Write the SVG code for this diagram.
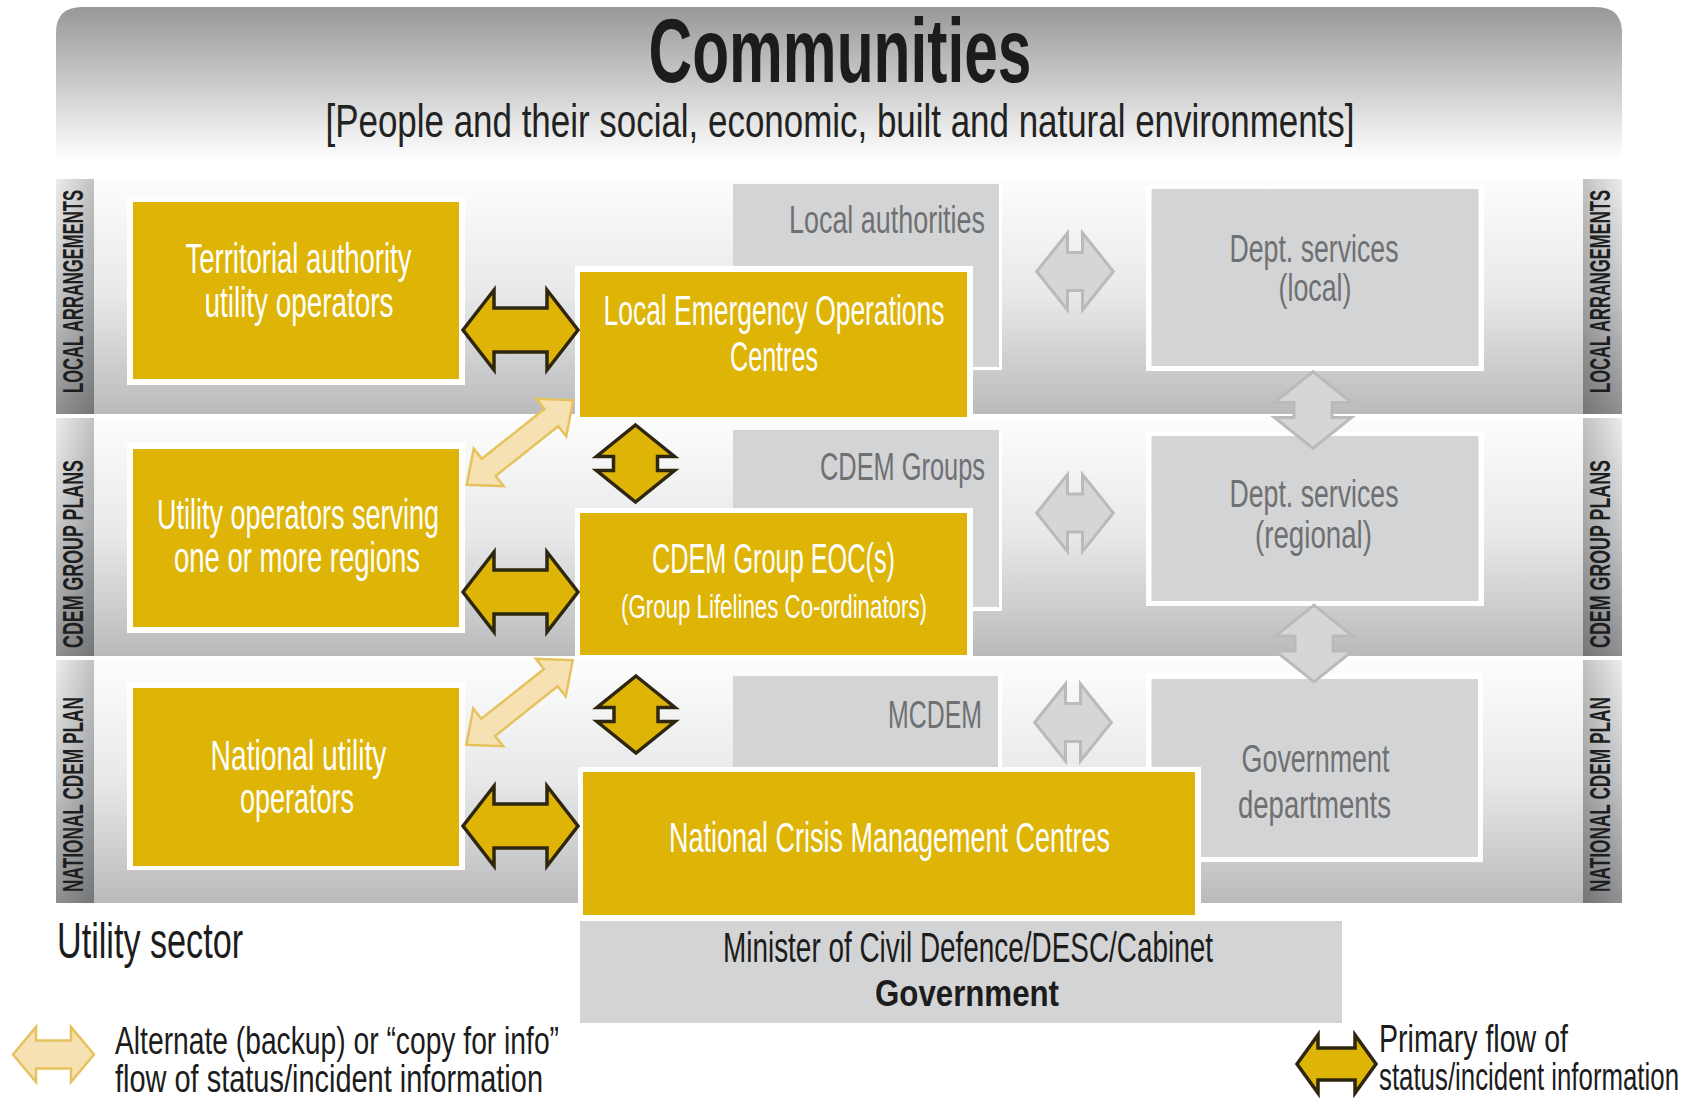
<svg xmlns="http://www.w3.org/2000/svg" width="1699" height="1100" viewBox="0 0 1699 1100">
<defs>
<linearGradient id="gBanner" x1="0" y1="0" x2="0" y2="1">
<stop offset="0" stop-color="#97989a"/>
<stop offset="0.5" stop-color="#c9cacb"/>
<stop offset="0.85" stop-color="#eeeeee"/>
<stop offset="1" stop-color="#fcfcfc"/>
</linearGradient>
<linearGradient id="gBand" x1="0" y1="0" x2="0" y2="1">
<stop offset="0" stop-color="#fdfdfd"/>
<stop offset="0.5" stop-color="#e7e8e9"/>
<stop offset="1" stop-color="#b9babc"/>
</linearGradient>
<linearGradient id="gStrip" x1="0" y1="0" x2="0" y2="1">
<stop offset="0" stop-color="#ececec"/>
<stop offset="0.5" stop-color="#c4c5c7"/>
<stop offset="1" stop-color="#8e8f91"/>
</linearGradient>
<linearGradient id="gStripL" x1="0" y1="0" x2="1" y2="0">
<stop offset="0" stop-color="#000" stop-opacity="0"/>
<stop offset="1" stop-color="#000" stop-opacity="0.18"/>
</linearGradient>
<linearGradient id="gStripR" x1="1" y1="0" x2="0" y2="0">
<stop offset="0" stop-color="#000" stop-opacity="0"/>
<stop offset="1" stop-color="#000" stop-opacity="0.18"/>
</linearGradient>
<path id="pPrim" d="M-57.5,0 L-26.5,-40 L-26.5,-22 L26.5,-22 L26.5,-40 L57.5,0 L26.5,40 L26.5,22 L-26.5,22 L-26.5,40 Z"/>
<path id="pPrimV" d="M0,-38.5 L39,-7 L22,-7 L22,7 L39,7 L0,38.5 L-39,7 L-22,7 L-22,-7 L-39,-7 Z"/>
<path id="pGray" d="M-38.3,0 L-7.5,-38.5 L-7.5,-19 L7.5,-19 L7.5,-38.5 L38.3,0 L7.5,38.5 L7.5,19 L-7.5,19 L-7.5,38.5 Z"/>
<path id="pLight" d="M-68,0 L-40,-24 L-40,-11 L40,-11 L40,-24 L68,0 L40,24 L40,11 L-40,11 L-40,24 Z"/>
<path id="pLegP" d="M-39.5,0 L-18.5,-29 L-18.5,-16 L18.5,-16 L18.5,-29 L39.5,0 L18.5,29 L18.5,16 L-18.5,16 L-18.5,29 Z"/>
<path id="pLegA" d="M-40.5,0 L-17.5,-27.5 L-17.5,-14 L17.5,-14 L17.5,-27.5 L40.5,0 L17.5,27.5 L17.5,14 L-17.5,14 L-17.5,27.5 Z"/>
</defs>
<style>
.band{fill:url(#gBand)}
.strip{fill:url(#gStrip)}
.wb{fill:#ffffff}
.gold{fill:#DEB406}
.gray{fill:#D3D4D6}
.t{font-family:"Liberation Sans",Arial,sans-serif}
.tw{fill:#ffffff;font-size:42px;text-anchor:middle}
.tws{fill:#ffffff;font-size:33px;text-anchor:middle}
.tg{fill:#6f7072;font-size:39px}
.tk{fill:#1c1c1c}
.lg{font-size:38px}
.lbl{font-family:"Liberation Sans",Arial,sans-serif;font-weight:bold;font-size:30px;fill:#1e1e1e;text-anchor:middle}
.pa{fill:#DEB406;stroke:#2f2610;stroke-width:3.5;stroke-linejoin:miter}
.la{fill:#F6E1B2;stroke:#E6C25E;stroke-width:2.5;stroke-linejoin:miter}
.ga{fill:#D5D6D8;stroke:#B9BABC;stroke-width:3;stroke-linejoin:miter}
</style>
<rect width="1699" height="1100" fill="#ffffff"/>
<g id="background">
<path d="M56,157 L56,33 Q56,7 82,7 L1596,7 Q1622,7 1622,33 L1622,157 Z" fill="url(#gBanner)"/>
<rect class="band" x="56" y="179" width="1566" height="235"/>
<rect class="band" x="56" y="418" width="1566" height="238"/>
<rect class="band" x="56" y="660" width="1566" height="243"/>
<rect class="strip" x="56" y="179" width="38" height="235"/>
<rect class="strip" x="56" y="418" width="38" height="238"/>
<rect class="strip" x="56" y="660" width="38" height="243"/>
<rect x="56" y="179" width="38" height="724" fill="url(#gStripL)"/>
<rect class="strip" x="1583" y="179" width="39" height="235"/>
<rect class="strip" x="1583" y="418" width="39" height="238"/>
<rect class="strip" x="1583" y="660" width="39" height="243"/>
<rect x="1583" y="179" width="39" height="724" fill="url(#gStripR)"/>
<rect x="0" y="414" width="1699" height="4" fill="#ffffff"/>
<rect x="0" y="656" width="1699" height="4" fill="#ffffff"/>
</g>
<g id="titles">
<text class="t tk" x="840" y="82" font-size="90" font-weight="bold" text-anchor="middle" textLength="383" lengthAdjust="spacingAndGlyphs">Communities</text>
<text class="t" x="840" y="137" font-size="46" fill="#222" text-anchor="middle" textLength="1029" lengthAdjust="spacingAndGlyphs">[People and their social, economic, built and natural environments]</text>
</g>
<g id="side-labels">
<text class="lbl" transform="translate(83,291.5) rotate(-90)" textLength="203" lengthAdjust="spacingAndGlyphs">LOCAL ARRANGEMENTS</text>
<text class="lbl" transform="translate(83,554) rotate(-90)" textLength="188" lengthAdjust="spacingAndGlyphs">CDEM GROUP PLANS</text>
<text class="lbl" transform="translate(83,794.5) rotate(-90)" textLength="195" lengthAdjust="spacingAndGlyphs">NATIONAL CDEM PLAN</text>
<text class="lbl" transform="translate(1610,291.5) rotate(-90)" textLength="203" lengthAdjust="spacingAndGlyphs">LOCAL ARRANGEMENTS</text>
<text class="lbl" transform="translate(1610,554) rotate(-90)" textLength="188" lengthAdjust="spacingAndGlyphs">CDEM GROUP PLANS</text>
<text class="lbl" transform="translate(1610,794.5) rotate(-90)" textLength="195" lengthAdjust="spacingAndGlyphs">NATIONAL CDEM PLAN</text>
</g>
<g id="local-authorities">
<rect class="wb" x="733" y="184" width="269" height="186"/>
<rect class="gray" x="733" y="184" width="266" height="183"/>
<text class="t tg" x="985" y="233" font-size="46" text-anchor="end" textLength="196" lengthAdjust="spacingAndGlyphs">Local authorities</text>
</g>
<g id="cdem-groups">
<rect class="wb" x="733" y="430" width="269" height="181"/>
<rect class="gray" x="733" y="430" width="266" height="177"/>
<text class="t tg" x="985" y="480" font-size="46" text-anchor="end" textLength="165" lengthAdjust="spacingAndGlyphs">CDEM Groups</text>
</g>
<g id="mcdem">
<rect class="wb" x="733" y="676" width="269" height="92"/>
<rect class="gray" x="733" y="676" width="265" height="92"/>
<text class="t tg" x="982" y="728" font-size="46" text-anchor="end" textLength="94" lengthAdjust="spacingAndGlyphs">MCDEM</text>
</g>
<g id="territorial-authority-utility-operators">
<rect class="wb" x="127" y="197" width="338" height="188"/>
<rect class="gold" x="133" y="202" width="326" height="177"/>
<text class="t tw" x="298.5" y="273" textLength="226" lengthAdjust="spacingAndGlyphs">Territorial authority</text>
<text class="t tw" x="299" y="317" textLength="189" lengthAdjust="spacingAndGlyphs">utility operators</text>
</g>
<g id="regional-utility-operators">
<rect class="wb" x="127" y="443" width="338" height="190"/>
<rect class="gold" x="133" y="449" width="326" height="178"/>
<text class="t tw" x="298" y="529" textLength="282" lengthAdjust="spacingAndGlyphs">Utility operators serving</text>
<text class="t tw" x="297" y="572" textLength="246" lengthAdjust="spacingAndGlyphs">one or more regions</text>
</g>
<g id="national-utility-operators">
<rect class="wb" x="127" y="682" width="338" height="188"/>
<rect class="gold" x="133" y="688" width="326" height="178"/>
<text class="t tw" x="298.5" y="770" textLength="176" lengthAdjust="spacingAndGlyphs">National utility</text>
<text class="t tw" x="297" y="813" textLength="114" lengthAdjust="spacingAndGlyphs">operators</text>
</g>
<g id="local-eoc">
<rect class="wb" x="575" y="266" width="398" height="152"/>
<rect class="gold" x="580" y="272" width="387" height="145"/>
<text class="t tw" x="774" y="325" textLength="341" lengthAdjust="spacingAndGlyphs">Local Emergency Operations</text>
<text class="t tw" x="774" y="371" textLength="88" lengthAdjust="spacingAndGlyphs">Centres</text>
</g>
<g id="cdem-group-eoc">
<rect class="wb" x="575" y="508" width="398" height="153"/>
<rect class="gold" x="580" y="513" width="387" height="142"/>
<text class="t tw" x="773.5" y="573" textLength="243" lengthAdjust="spacingAndGlyphs">CDEM Group EOC(s)</text>
<text class="t tws" x="774" y="618" textLength="306" lengthAdjust="spacingAndGlyphs">(Group Lifelines Co-ordinators)</text>
</g>
<g id="dept-services-local">
<rect class="wb" x="1146" y="186" width="338" height="185"/>
<rect class="gray" x="1151.5" y="189" width="327" height="177"/>
<text class="t tg" x="1314" y="262" text-anchor="middle" textLength="169" lengthAdjust="spacingAndGlyphs">Dept. services</text>
<text class="t tg" x="1315" y="301" text-anchor="middle" textLength="73" lengthAdjust="spacingAndGlyphs">(local)</text>
</g>
<g id="dept-services-regional">
<rect class="wb" x="1146" y="432" width="338" height="174"/>
<rect class="gray" x="1151.5" y="436" width="327" height="165"/>
<text class="t tg" x="1314" y="507" text-anchor="middle" textLength="169" lengthAdjust="spacingAndGlyphs">Dept. services</text>
<text class="t tg" x="1313.5" y="548" text-anchor="middle" textLength="117" lengthAdjust="spacingAndGlyphs">(regional)</text>
</g>
<g id="government-departments">
<rect class="wb" x="1146" y="673" width="337" height="189"/>
<rect class="gray" x="1151.5" y="679" width="326.5" height="178"/>
<text class="t tg" x="1315.5" y="772" font-size="38" text-anchor="middle" textLength="148" lengthAdjust="spacingAndGlyphs">Government</text>
<text class="t tg" x="1314.5" y="818" font-size="38" text-anchor="middle" textLength="153" lengthAdjust="spacingAndGlyphs">departments</text>
</g>
<g id="national-crisis-management-centres">
<rect class="wb" x="578" y="767" width="623" height="151"/>
<rect class="gold" x="583" y="772" width="612" height="143"/>
<text class="t tw" x="889.5" y="852" font-size="44" textLength="441" lengthAdjust="spacingAndGlyphs">National Crisis Management Centres</text>
</g>
<g id="government">
<rect class="gray" x="580" y="921" width="762" height="102"/>
<text class="t tk" x="968" y="962" font-size="42" text-anchor="middle" textLength="490" lengthAdjust="spacingAndGlyphs">Minister of Civil Defence/DESC/Cabinet</text>
<text class="t tk" x="967" y="1006" font-size="36" font-weight="bold" text-anchor="middle" textLength="184" lengthAdjust="spacingAndGlyphs">Government</text>
</g>
<g id="utility-sector">
<text class="t tk" x="57" y="958" font-size="50" textLength="186" lengthAdjust="spacingAndGlyphs">Utility sector</text>
</g>
<g id="connectors">
<use href="#pPrim" class="pa" transform="translate(520.5,330)"/>
<use href="#pPrim" class="pa" transform="translate(520.5,592)"/>
<use href="#pPrim" class="pa" transform="translate(520.5,826)"/>
<use href="#pPrimV" class="pa" transform="translate(635.5,463.5)"/>
<use href="#pPrimV" class="pa" transform="translate(636,714.5)"/>
<use href="#pLight" class="la" transform="translate(520,442.5) rotate(-38.5)"/>
<use href="#pLight" class="la" transform="translate(519.5,702.5) rotate(-38.5)"/>
<use href="#pGray" class="ga" transform="translate(1075,271.5)"/>
<use href="#pGray" class="ga" transform="translate(1075,513)"/>
<use href="#pGray" class="ga" transform="translate(1073,722.5)"/>
<use href="#pGray" class="ga" transform="translate(1313,410) rotate(90)"/>
<use href="#pGray" class="ga" transform="translate(1314,643.5) rotate(90)"/>
</g>
<g id="legend">
<use href="#pLegA" class="la" transform="translate(53.5,1054.5)"/>
<text class="t tk lg" x="115" y="1054" textLength="444" lengthAdjust="spacingAndGlyphs">Alternate (backup) or “copy for info”</text>
<text class="t tk lg" x="115" y="1092" textLength="428" lengthAdjust="spacingAndGlyphs">flow of status/incident information</text>
<use href="#pLegP" class="pa" transform="translate(1336.5,1064)"/>
<text class="t tk lg" x="1379" y="1052" textLength="189" lengthAdjust="spacingAndGlyphs">Primary flow of</text>
<text class="t tk lg" x="1379" y="1090" textLength="300" lengthAdjust="spacingAndGlyphs">status/incident information</text>
</g>
</svg>
